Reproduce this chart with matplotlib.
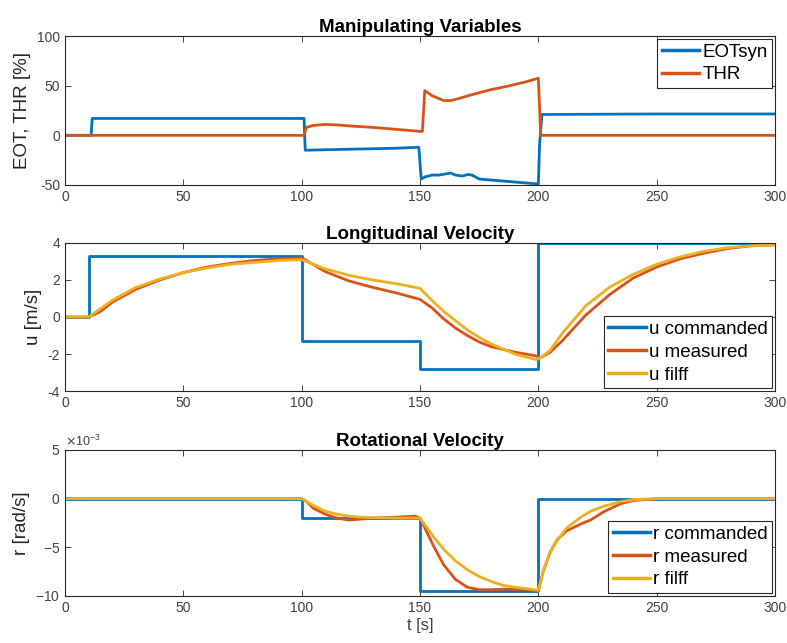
import numpy as np
import matplotlib.pyplot as plt
from matplotlib.ticker import ScalarFormatter

plt.rcParams['font.family'] = ['Liberation Sans', 'DejaVu Sans']
plt.rcParams['axes.unicode_minus'] = False

# --- manipulating variables ---
t_eot = [0, 11, 11.5, 101, 101.5, 110, 120, 130, 140, 149.5, 150.5, 152, 155, 158, 163,
         165, 168, 170, 172, 175, 180, 185, 190, 195, 200, 200.5, 201.5, 250, 300]
eot = [0, 0, 17, 17, -15, -14.5, -14, -13.5, -13, -12, -44, -42, -40, -40, -38,
       -40, -41, -39.5, -40, -44, -45, -46, -47, -48, -49, -10, 21, 21.5, 21.5]
t_thr = [0, 101, 102, 105, 110, 115, 120, 130, 140, 150, 151, 152, 155, 158, 160,
         163, 167, 172, 180, 188, 195, 200, 201, 300]
thr = [0, 0, 8, 10, 11, 10.5, 9.5, 8, 6, 4, 4, 45, 40, 37, 35,
       35, 37.5, 41, 46, 50, 54, 57.5, 0, 0]

# --- longitudinal velocity ---
t_cmd = [0, 10, 100, 150, 200, 300]
u_cmd = [0, 3.3, -1.3, -2.8, 4.0, 4.0]
t_u = [0, 10, 15, 20, 30, 40, 50, 60, 70, 80, 90, 100, 110, 120, 130, 140, 150,
       155, 160, 165, 170, 175, 180, 190, 199, 201, 205, 210, 220, 230, 240, 250,
       260, 270, 280, 290, 300]
u_meas = [0, 0, 0.3, 0.8, 1.5, 2.0, 2.4, 2.7, 2.9, 3.05, 3.15, 3.2, 2.45, 1.95, 1.6, 1.3, 0.95,
          0.5, -0.1, -0.6, -1.0, -1.35, -1.6, -1.9, -2.1, -2.2, -1.9, -1.3, 0.1, 1.2, 2.1, 2.7,
          3.15, 3.45, 3.7, 3.85, 3.9]
u_filt = [0, 0, 0.45, 0.9, 1.6, 2.05, 2.4, 2.65, 2.85, 2.95, 3.05, 3.1, 2.6, 2.25, 2.0, 1.8, 1.55,
          0.9, 0.3, -0.2, -0.7, -1.1, -1.45, -2.0, -2.3, -2.2, -1.8, -0.9, 0.6, 1.6, 2.3, 2.85,
          3.25, 3.55, 3.75, 3.85, 3.9]

# --- rotational velocity (x 1e-3 rad/s) ---
r_cmd = [0, -2.0, -9.5, 0, 0]
t_rcmd = [0, 100, 150, 200, 300]
t_r = [0, 100, 102, 105, 110, 115, 120, 125, 130, 140, 148, 150, 153, 156, 160, 165, 170,
       175, 180, 185, 190, 195, 200, 202, 205, 208, 212, 218, 222, 228, 235, 240, 245, 250, 300]
r_meas = [0, 0, -0.3, -1.0, -1.6, -2.0, -2.2, -2.1, -2.0, -1.9, -1.8, -2.0, -3.5, -5.0, -6.8, -8.3, -9.1,
          -9.35, -9.35, -9.3, -9.3, -9.35, -9.5, -7.5, -5.5, -4.2, -3.3, -2.6, -2.2, -1.3, -0.5, -0.2, -0.1, 0, 0]
r_filt = [0, 0, -0.3, -0.7, -1.3, -1.6, -1.8, -1.9, -1.95, -2.0, -2.0, -2.0, -3.0, -4.0, -5.2, -6.4, -7.3,
          -8.0, -8.5, -8.9, -9.1, -9.25, -9.4, -7.5, -5.5, -4.3, -3.0, -1.9, -1.3, -0.75, -0.3, -0.1, -0.05, 0, 0]

blue = '#0072BD'
orange = '#D95319'
yellow = '#EDB120'
axc = '#262626'
tickc = '#404040'
lw = 2
ylab_font = dict(fontsize=13.5, color=axc)

fig = plt.figure(figsize=(7.87, 6.43), dpi=100)
ax1 = fig.add_axes([0.0826, 0.7123, 0.9022, 0.2317])
ax2 = fig.add_axes([0.0826, 0.3919, 0.9022, 0.2302])
ax3 = fig.add_axes([0.0826, 0.0731, 0.9022, 0.2271])

ax1.plot(t_eot, eot, color=blue, lw=lw, label='EOTsyn')
ax1.plot(t_thr, thr, color=orange, lw=lw, label='THR')
ax1.set_ylim(-50, 100)
ax1.set_yticks([-50, 0, 50, 100])
ax1.set_ylabel('EOT, THR [%]', **ylab_font)
ax1.set_title('Manipulating Variables', fontsize=13.5, fontweight='bold', pad=3)

ax2.step(t_cmd, u_cmd, where='post', color=blue, lw=lw, label='u commanded')
ax2.plot(t_u, u_meas, color=orange, lw=lw, label='u measured')
ax2.plot(t_u, u_filt, color=yellow, lw=lw, label='u filff')
ax2.set_ylim(-4, 4)
ax2.set_yticks([-4, -2, 0, 2, 4])
ax2.set_ylabel('u [m/s]', **ylab_font)
ax2.set_title('Longitudinal Velocity', fontsize=13.5, fontweight='bold', pad=3)

ax3.step(t_rcmd, np.array(r_cmd) * 1e-3, where='post', color=blue, lw=lw, label='r commanded')
ax3.plot(t_r, np.array(r_meas) * 1e-3, color=orange, lw=lw, label='r measured')
ax3.plot(t_r, np.array(r_filt) * 1e-3, color=yellow, lw=lw, label='r filff')
ax3.set_ylim(-0.010, 0.005)
ax3.set_yticks([-0.010, -0.005, 0, 0.005])
fmt = ScalarFormatter(useMathText=True)
fmt.set_powerlimits((-3, -3))
ax3.yaxis.set_major_formatter(fmt)
ax3.yaxis.get_offset_text().set_fontsize(9)
ax3.yaxis.get_offset_text().set_color(tickc)
ax3.set_ylabel('r [rad/s]', **ylab_font)
ax3.set_xlabel('t [s]', fontsize=12, color=tickc, labelpad=2)
ax3.set_title('Rotational Velocity', fontsize=13.5, fontweight='bold', pad=3)

for ax, anchor in ((ax1, 'upper right'), (ax2, 'lower right'), (ax3, 'lower right')):
    ax.set_xlim(0, 300)
    ax.set_xticks(range(0, 301, 50))
    ax.tick_params(direction='in', top=True, right=True, labelsize=10,
                   colors=axc, labelcolor=tickc, length=4, width=0.6)
    for s in ax.spines.values():
        s.set_color(axc)
        s.set_linewidth(0.8)
    leg = ax.legend(loc=anchor, fontsize=13.5, fancybox=False, edgecolor=axc, framealpha=1,
                    borderaxespad=0.15, handlelength=2.0, handletextpad=0.15,
                    labelspacing=0.3, borderpad=0.25)
    leg.get_frame().set_linewidth(0.8)
    for h in leg.get_lines():
        h.set_linewidth(2.5)

fig.savefig('out.png', dpi=100)
